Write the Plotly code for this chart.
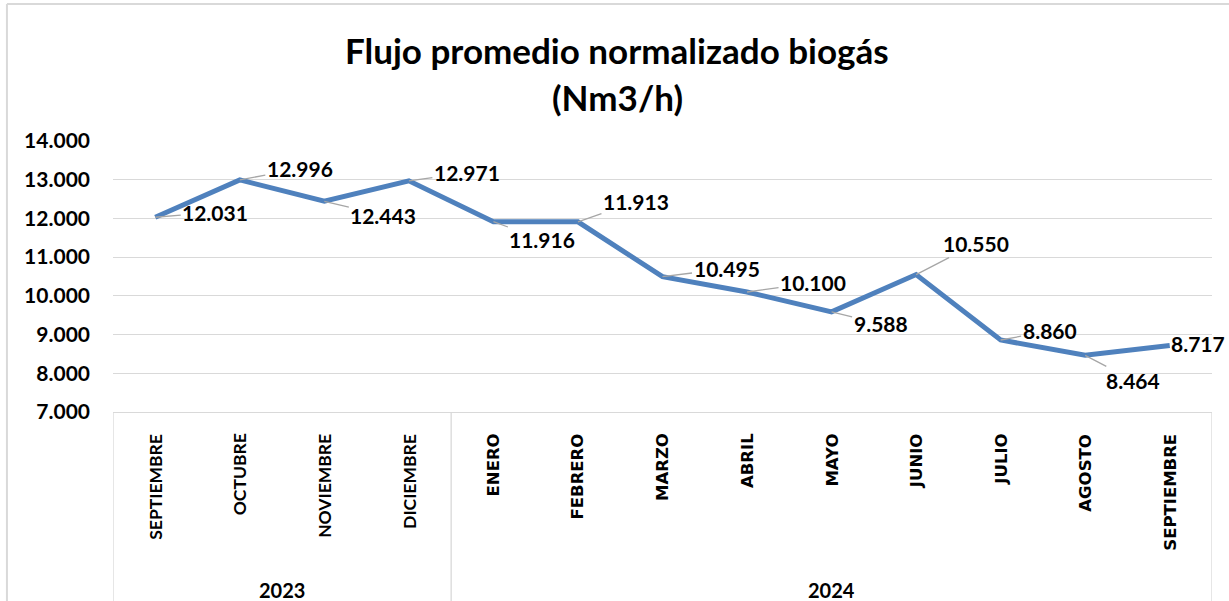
import plotly.graph_objects as go

# ---- data ----
years = ["2023", "2024"]
year_month_counts = [4, 9]
months = ["SEPTIEMBRE", "OCTUBRE", "NOVIEMBRE", "DICIEMBRE",
          "ENERO", "FEBRERO", "MARZO", "ABRIL", "MAYO", "JUNIO",
          "JULIO", "AGOSTO", "SEPTIEMBRE"]
flow = [12031, 12996, 12443, 12971, 11916, 11913, 10495, 10100,
        9588, 10550, 8860, 8464, 8717]
title_lines = ["Flujo promedio normalizado biogás", "(Nm3/h)"]

# ---- label offsets (pixels, styling only) ----
label_dx = [60, 60, 59, 58, 49, 58, 64, 66, 49, 60, 49, 48, 28]
label_dy = [-5, -11, 14, -8, 18, -20, -8, -9, 12, -31, -9, 25, -2]

FONT = "Lato"
LINE_COLOR = "#4f81bd"
GRID = "#d9d9d9"

xs = list(range(len(months)))

fig = go.Figure()
fig.add_trace(go.Scatter(
    x=xs, y=flow, mode="lines",
    line=dict(color=LINE_COLOR, width=5),
    hoverinfo="skip", showlegend=False,
))

annotations = []

def fmt(v):
    return f"{v:,}".replace(",", ".")

# data labels with leader lines
for i, v in enumerate(flow):
    last = i == len(flow) - 1
    annotations.append(dict(
        x=xs[i], y=v, xref="x", yref="y",
        text=fmt(v), showarrow=True,
        arrowhead=0, arrowwidth=1.3,
        arrowcolor="rgba(0,0,0,0)" if last else "#a6a6a6",
        ax=label_dx[i], ay=label_dy[i],
        font=dict(family=FONT, size=21, color="black", weight="bold"),
    ))

# month labels (rotated)
for i, m in enumerate(months):
    first_year = i < year_month_counts[0]
    annotations.append(dict(
        x=xs[i], y=-0.072, xref="x", yref="paper",
        text=m, showarrow=False, textangle=-90,
        xanchor="center", yanchor="top",
        font=dict(family=FONT if first_year else "DejaVu Sans",
                  size=17.5 if first_year else 16.5,
                  color="black", weight="bold"),
    ))

# year labels and group dividers
shapes = []
start = 0
bounds = [-0.5]
for yname, cnt in zip(years, year_month_counts):
    center = start + (cnt - 1) / 2
    annotations.append(dict(
        x=center, y=-0.655, xref="x", yref="paper",
        text=yname, showarrow=False,
        xanchor="center", yanchor="middle",
        font=dict(family=FONT, size=20, color="black", weight="bold"),
    ))
    start += cnt
    bounds.append(start - 0.5)

for b in bounds:
    shapes.append(dict(type="line", xref="x", yref="paper",
                       x0=b, x1=b, y0=0, y1=-0.75,
                       line=dict(color=GRID, width=1.3)))

# title
for txt, yy in zip(title_lines, [1.336, 1.162]):
    annotations.append(dict(
        x=0.459, y=yy, xref="paper", yref="paper",
        text=txt, showarrow=False, xanchor="center", yanchor="middle",
        font=dict(family=FONT, size=35, color="black", weight="bold"),
    ))

# outer chart border
shapes.append(dict(type="line", xref="paper", yref="paper",
                   x0=-0.0965, x1=-0.0965, y0=1.5055, y1=-0.75,
                   line=dict(color=GRID, width=2)))
shapes.append(dict(type="line", xref="paper", yref="paper",
                   x0=-0.0965, x1=1.02, y0=1.5055, y1=1.5055,
                   line=dict(color=GRID, width=2)))

fig.update_layout(
    width=1229, height=601,
    margin=dict(l=113, r=17, t=141, b=189),
    paper_bgcolor="white", plot_bgcolor="white",
    separators=",.",
    annotations=annotations, shapes=shapes,
    showlegend=False,
)
fig.update_xaxes(
    range=[-0.5, len(months) - 0.5], showticklabels=False,
    showgrid=False, zeroline=False, showline=True,
    linecolor=GRID, linewidth=1.3, ticks="",
)
fig.update_yaxes(
    range=[7000, 14000], dtick=1000, tickformat=",d",
    showgrid=True, gridcolor=GRID, gridwidth=1.3,
    zeroline=False, showline=False, ticks="",
    ticklabelstandoff=22,
    tickfont=dict(family=FONT, size=21, color="black", weight="bold"),
)

fig.write_html("out.html", config={"displayModeBar": False},
               post_script="document.body.style.margin='0';")
